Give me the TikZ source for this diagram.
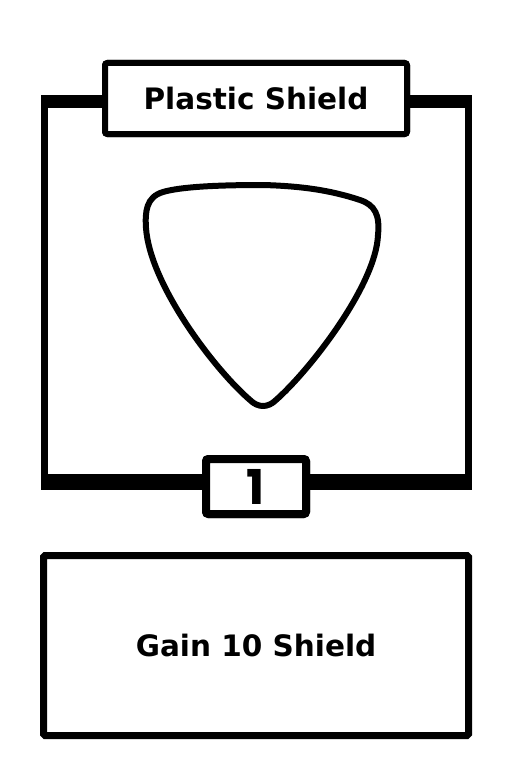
\documentclass[tikz,border=0pt]{standalone}
\usepackage{fontspec}
\setmainfont{DejaVu Sans}
\newfontfamily\onefont{Poppins}
\begin{document}
\begin{tikzpicture}[x=1pt,y=-1pt,
  box/.style={draw=black,fill=white,rounded corners=2.5pt,inner sep=0pt,font=\fontsize{29.5}{30}\selectfont\bfseries},
  numbox/.style={box,line width=8pt,minimum width=100pt,minimum height=55pt,font=\onefont\fontsize{48}{48}\selectfont\bfseries},
  wire/.style={draw=black,line width=7pt,line cap=butt},
  bar/.style={draw=black,line cap=butt}]
\useasboundingbox (0,0) rectangle (512,768);
\fill[white] (0,0) rectangle (512,768);
% frame corners (outer)
\coordinate (tl) at (40.5,101.5);
\coordinate (tr) at (472,101.5);
\coordinate (bl) at (40.5,482);
\coordinate (br) at (472,482);
% vertical sides
\draw[wire] (44,95) -- (44,490);
\draw[wire] (468.5,95) -- (468.5,490);
% nodes
\node[box,line width=6pt,minimum width=302pt,minimum height=71pt] (plastic) at (256,98.5) {Plastic Shield};
\node[numbox] (one) at (256,486.5) {1};
\node[box,line width=7pt,minimum width=425pt,minimum height=180pt,rounded corners=1.5pt] (gain) at (256,645.5) {Gain 10 Shield};
% horizontal bars (connectors)
\draw[bar,line width=13pt] (plastic.west |- tl) -- (tl);
\draw[bar,line width=13pt] (plastic.east |- tr) -- (tr);
\draw[bar,line width=16pt] (one.west |- bl) -- (bl);
\draw[bar,line width=16pt] (one.east |- br) -- (br);
% redraw boxes on top
\node[box,line width=6pt,minimum width=302pt,minimum height=71pt] at (plastic) {Plastic Shield};
\node[numbox] at (one) {1};
% pick
\draw[line width=6pt,line join=round] (263,185)
  .. controls (215,185) and (180,187) .. (163,192)
  .. controls (146,197) and (145,212) .. (146,228)
  .. controls (150,285) and (215,370) .. (250,400)
  .. controls (258,408) and (268,408) .. (276,400)
  .. controls (310,370) and (376,285) .. (378,235)
  .. controls (380,215) and (375,205) .. (360,200)
  .. controls (330,190) and (300,186) .. cycle;
\end{tikzpicture}
\end{document}
